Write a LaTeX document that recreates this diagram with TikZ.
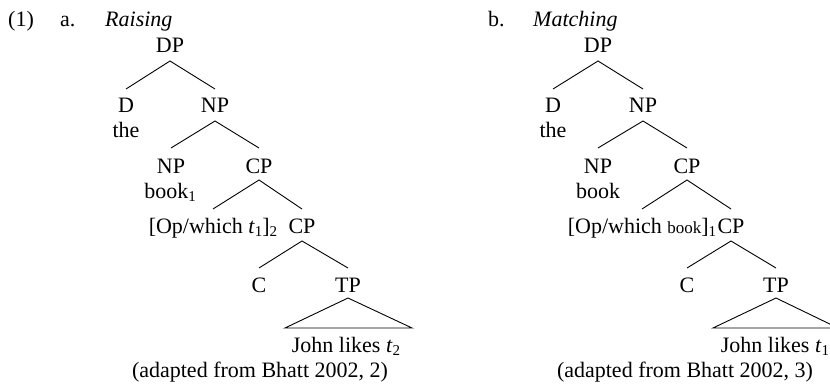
\documentclass[tikz,border=0pt]{standalone}
\usepackage{fontspec}
\setmainfont{Liberation Serif}
\newcommand\sbs[1]{\raisebox{-0.35ex}{\fontsize{15}{15}\selectfont #1}}
\begin{document}
\begin{tikzpicture}[x=1pt,y=-1pt,
  every node/.style={font=\fontsize{22}{26}\selectfont, inner sep=0pt, anchor=base},
  branch/.style={line width=0.9pt},
  smallword/.style={}]
\useasboundingbox (0,0) rectangle (830,385);
% ---------- (a) Raising ----------
\node[anchor=base west] (num) at (8,27) {(1)};
\node[anchor=base west] (la) at (60,27) {a.};
\node[anchor=base west] (ttla) at (105,27) {\itshape Raising};
\node (aDP) at (170,53) {DP};
\node (aD) at (126,113) {D};
\node (aNP) at (215,113) {NP};
\node (athe) at (126,138) {the};
\node (aNPb) at (171,173) {NP};
\node (aCP) at (259,173) {CP};
\node (abook) at (170,198) {book\sbs{1}};
\node (aOp) at (213,233) {[Op/which \textit{t}\sbs{1}]\sbs{2}};
\node (aCPb) at (302,233) {CP};
\node (aC) at (259,292) {C};
\node (aTP) at (348,292) {TP};
\node (ajohn) at (346,352) {John likes \textit{t}\sbs{2}};
\node (aref) at (260,377) {(adapted from Bhatt 2002, 2)};
\draw[branch] ([yshift=24pt]aD.base) -- ([yshift=-8pt]aDP.base) -- ([yshift=24pt]aNP.base);
\draw[branch] ([yshift=25pt]aNPb.base) -- ([yshift=-8pt]aNP.base) -- ([yshift=25pt]aCP.base);
\draw[branch] ([yshift=24pt]aOp.base) -- ([yshift=-7pt]aCP.base) -- ([yshift=24pt]aCPb.base);
\draw[branch] ([yshift=24pt]aC.base) -- ([yshift=-8pt]aCPb.base) -- ([yshift=24pt]aTP.base);
\draw[branch] ([yshift=-6pt]aTP.base) -- ([xshift=-63pt,yshift=-36pt]aTP.base) -- ([xshift=64pt,yshift=-36pt]aTP.base) -- cycle;
% ---------- (b) Matching ----------
\node[anchor=base west] (lb) at (488,27) {b.};
\node[anchor=base west] (ttlb) at (533,27) {\itshape Matching};
\node (bDP) at (598,53) {DP};
\node (bD) at (553,113) {D};
\node (bNP) at (643,113) {NP};
\node (bthe) at (553,138) {the};
\node (bNPb) at (598,173) {NP};
\node (bCP) at (687,173) {CP};
\node (bbook) at (598,198) {book};
\node (bOp) at (642,233) {[Op/which {\fontsize{17}{20}\selectfont book}]\sbs{1}};
\node (bCPb) at (731,233) {CP};
\node (bC) at (687,292) {C};
\node (bTP) at (776,292) {TP};
\node (bjohn) at (775,352) {John likes \textit{t}\sbs{1}};
\node (bref) at (685,377) {(adapted from Bhatt 2002, 3)};
\draw[branch] ([yshift=24pt]bD.base) -- ([yshift=-8pt]bDP.base) -- ([yshift=24pt]bNP.base);
\draw[branch] ([yshift=25pt]bNPb.base) -- ([yshift=-8pt]bNP.base) -- ([yshift=25pt]bCP.base);
\draw[branch] ([yshift=24pt]bOp.base) -- ([yshift=-7pt]bCP.base) -- ([yshift=24pt]bCPb.base);
\draw[branch] ([yshift=24pt]bC.base) -- ([yshift=-8pt]bCPb.base) -- ([yshift=24pt]bTP.base);
\draw[branch] ([yshift=-6pt]bTP.base) -- ([xshift=-63pt,yshift=-36pt]bTP.base) -- ([xshift=62pt,yshift=-36pt]bTP.base) -- cycle;
\end{tikzpicture}
\end{document}
